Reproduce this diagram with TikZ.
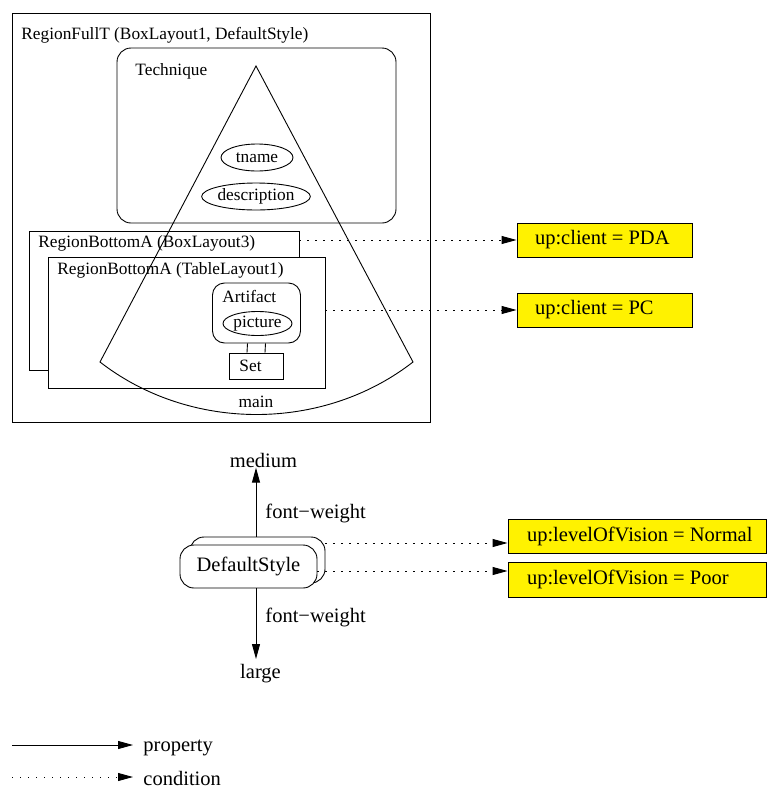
\documentclass[tikz,border=0pt]{standalone}
\usepackage{fontspec}
\setmainfont{Liberation Serif}
\usetikzlibrary{arrows.meta,shapes.geometric}
\begin{document}
\begin{tikzpicture}[x=1pt,y=-1pt,line width=0.9pt,
  small/.style={font=\fontsize{17.3}{20}\selectfont},
  big/.style={font=\fontsize{20.5}{24}\selectfont},
  region/.style={draw,fill=white,inner sep=0pt},
  rbox/.style={draw,fill=white,rounded corners=#1,inner sep=0pt},
  attr/.style={draw,ellipse,small,inner sep=0pt},
  lbl/.style={inner sep=0pt,anchor=west},
  cbox/.style={draw,fill=yellow,inner sep=0pt},
  prop/.style={-{Triangle[length=15pt,width=8pt]}},
  cond/.style={-{Triangle[length=15pt,width=8pt]},dash pattern=on 1.2pt off 6.8pt}]
\useasboundingbox (0,0) rectangle (767,790);

% outer region
\node[region,minimum width=418pt,minimum height=409pt] (full) at (221,217.5) {};
\node[lbl,small] (fullT) at (21,35) {RegionFullT (BoxLayout1, DefaultStyle)};

% Technique entity
\node[rbox=14pt,minimum width=279pt,minimum height=175pt] (tech) at (256.5,135.5) {};
\node[lbl,small] (techT) at (135,71) {Technique};
\node[attr,minimum width=72pt,minimum height=27pt] (tname) at (257,157.5) {tname};
\node[attr,minimum width=106pt,minimum height=27pt] (desc) at (256,196.5) {description};

% bottom regions
\node[region,minimum width=270pt,minimum height=139pt] (bl3) at (164,300.5) {};
\node[lbl,small] (bl3T) at (38,243) {RegionBottomA (BoxLayout3)};
\node[region,minimum width=277pt,minimum height=131pt] (tl1) at (186.5,322.5) {};
\node[lbl,small] (tl1T) at (57,270) {RegionBottomA (TableLayout1)};

% Artifact entity and Set
\node[rbox=12pt,minimum width=88pt,minimum height=60pt] (art) at (256.5,313) {};
\node[lbl,small] (artT) at (222,296) {Artifact};
\node[attr,minimum width=69pt,minimum height=24pt] (pic) at (257.5,323.5) {picture};
\node[region,minimum width=54pt,minimum height=26pt] (set) at (256,366) {};
\node[lbl,small] (setT) at (239,366) {Set};
\draw ([xshift=-9pt]art.south) -- ([xshift=-9pt]set.north);
\draw ([xshift=9pt]art.south) -- ([xshift=9pt]set.north);

% main sector
\coordinate (apex) at (256,66);
\coordinate (mainL) at (100,362);
\coordinate (mainR) at (413,362);
\draw (apex) -- (mainL) .. controls (190,432) and (323,432) .. (mainR) -- cycle;
\node[small,inner sep=0pt] (mainT) at (256,402) {main};

% client conditions
\node[cbox,minimum width=175pt,minimum height=34pt] (pda) at (604.5,240) {};
\node[lbl,big] (pdaT) at ([xshift=18pt]pda.west) {up:client = PDA};
\node[cbox,minimum width=175pt,minimum height=34pt] (pc) at (604.5,310) {};
\node[lbl,big] (pcT) at ([xshift=18pt]pc.west) {up:client = PC};
\draw[cond] (bl3.east |- pda.west) -- (pda.west);
\draw[cond] (tl1.east |- pc.west) -- (pc.west);

% DefaultStyle
\node[rbox=14pt,minimum width=135pt,minimum height=46pt] (ds2) at (257.5,560) {};
\node[rbox=14pt,big,minimum width=137pt,minimum height=43pt] (ds) at (248.5,566.5) {DefaultStyle};
\coordinate (ax) at (256,0);
\node[big,inner sep=0pt,anchor=base] (medium) at (263.5,467) {medium};
\node[big,inner sep=0pt,anchor=north] (large) at (260.5,664) {large};
\draw[prop] (ds2.north -| ax) -- (medium.south -| ax);
\draw[prop,shorten >=5pt] (ds.south -| ax) -- (large.north -| ax);
\node[lbl,big] (fw1) at (265,513) {font−weight};
\node[lbl,big] (fw2) at (265,617) {font−weight};

% vision conditions
\node[cbox,minimum width=258pt,minimum height=34pt] (normal) at (637,536) {};
\node[lbl,big] (normalT) at ([xshift=19pt]normal.west) {up:levelOfVision = Normal};
\node[cbox,minimum width=258pt,minimum height=35pt] (poor) at (637,579.5) {};
\node[lbl,big] (poorT) at ([xshift=19pt]poor.west) {up:levelOfVision = Poor};
\draw[cond] (ds2.east |- 0,543) -- (normal.west |- 0,543);
\draw[cond] (ds.east |- 0,571) -- (poor.west |- 0,571);

% legend
\coordinate (lp) at (12,745);
\coordinate (lc) at (12,777);
\node[lbl,big] (property) at (143,748) {property};
\node[lbl,big] (condition) at (143,778) {condition};
\draw[prop,shorten >=10pt] (lp) -- (lp -| property.west);
\draw[cond,shorten >=10pt] (lc) -- (lc -| condition.west);
\end{tikzpicture}
\end{document}
